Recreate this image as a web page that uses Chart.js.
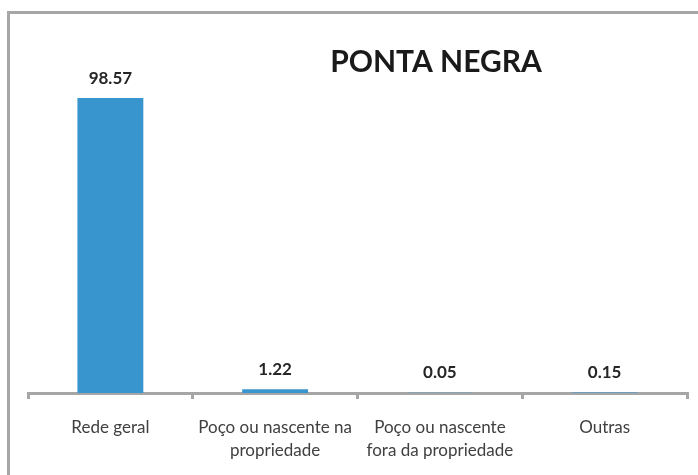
<!DOCTYPE html>
<html>
<head>
<meta charset="utf-8">
<script src="https://cdn.jsdelivr.net/npm/chart.js@4/dist/chart.umd.min.js"></script>
<style>
  html, body { margin: 0; padding: 0; background: #fff; }
  #wrap { position: relative; width: 698px; height: 475px; overflow: hidden; }
  #frame { position: absolute; left: 7px; top: 11px; width: 720px; height: 500px;
           border-top: 3px solid #a6a6a6; border-left: 3px solid #a6a6a6; }
  canvas { position: absolute; left: 0; top: 0; }
</style>
</head>
<body>
<div id="wrap">
  <div id="frame"></div>
  <canvas id="chart" width="698" height="475"></canvas>
</div>
<script>
// Chart data
const categories = [
    ['Rede geral'],
    ['Poço ou nascente na', 'propriedade'],
    ['Poço ou nascente', 'fora da propriedade'],
    ['Outras']
];
const values = [98.57, 1.22, 0.05, 0.15];
const chartTitle = 'PONTA NEGRA';

// Value labels above the bars
const valueLabels = {
    id: 'valueLabels',
    afterDatasetsDraw(chart) {
        const ctx = chart.ctx;
        const meta = chart.getDatasetMeta(0);
        ctx.save();
        ctx.font = 'bold 17px Lato, "Open Sans", sans-serif';
        ctx.fillStyle = '#262626';
        ctx.textAlign = 'center';
        ctx.textBaseline = 'middle';
        meta.data.forEach((bar, i) => {
            ctx.fillText(values[i].toFixed(2), bar.x, bar.y - 20);
        });
        ctx.restore();
    }
};

// Title placed right of centre like the original
const titleText = {
    id: 'titleText',
    afterDraw(chart) {
        const ctx = chart.ctx;
        ctx.save();
        ctx.font = 'bold 30px Lato, "Open Sans", sans-serif';
        ctx.fillStyle = '#1a1a1a';
        ctx.textAlign = 'center';
        ctx.textBaseline = 'middle';
        ctx.fillText(chartTitle, 436, 62);
        ctx.restore();
    }
};

const ctx = document.getElementById('chart').getContext('2d');
new Chart(ctx, {
    type: 'bar',
    data: {
        labels: categories,
        datasets: [{
            data: values,
            backgroundColor: '#3895cd',
            borderWidth: 0,
            barPercentage: 0.4,
            categoryPercentage: 1.0
        }]
    },
    options: {
        responsive: false,
        animation: false,
        layout: { padding: { left: 28, right: 11, top: 34, bottom: 0 } },
        plugins: {
            legend: { display: false },
            tooltip: { enabled: false },
            title: { display: false }
        },
        scales: {
            x: {
                border: { display: true, color: '#a6a6a6', width: 3 },
                grid: {
                    display: true,
                    drawOnChartArea: false,
                    drawTicks: true,
                    tickLength: 6,
                    color: '#a6a6a6',
                    lineWidth: 3
                },
                ticks: {
                    color: '#404040',
                    font: { family: 'Lato, "Open Sans", sans-serif', size: 17, lineHeight: 1.35 },
                    padding: 17,
                    maxRotation: 0,
                    autoSkip: false
                },
                afterFit(scale) { scale.height = 475 - 393; }
            },
            y: {
                display: false,
                min: 0,
                max: 120
            }
        }
    },
    plugins: [valueLabels, titleText]
});
</script>
</body>
</html>
